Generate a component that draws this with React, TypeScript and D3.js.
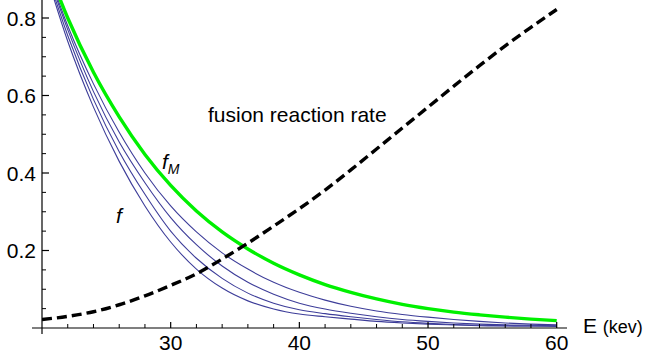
import * as d3 from 'd3'

// energy grid (kev)
const energy = [20, 22, 24, 26, 28, 30, 32, 34, 36, 38, 40, 42, 44, 46, 48, 50, 52, 54, 56, 58, 60]

// Maxwellian f_M (green)
const fMaxwell = [0.97, 0.80, 0.66, 0.545, 0.448, 0.368, 0.302, 0.248, 0.204, 0.167, 0.137, 0.112, 0.092, 0.075, 0.061, 0.050, 0.041, 0.034, 0.028, 0.023, 0.019]

// distorted f curves (blue), top to bottom
const fCurves = [
  [0.965, 0.78, 0.63, 0.505, 0.40, 0.315, 0.248, 0.194, 0.152, 0.118, 0.092, 0.072, 0.056, 0.044, 0.035, 0.028, 0.022, 0.017, 0.013, 0.010, 0.008],
  [0.96, 0.77, 0.61, 0.48, 0.375, 0.285, 0.215, 0.16, 0.118, 0.087, 0.064, 0.049, 0.038, 0.029, 0.022, 0.017, 0.013, 0.010, 0.008, 0.007, 0.006],
  [0.955, 0.755, 0.59, 0.455, 0.345, 0.25, 0.18, 0.128, 0.09, 0.064, 0.047, 0.037, 0.029, 0.022, 0.016, 0.012, 0.009, 0.007, 0.006, 0.005, 0.005],
  [0.95, 0.74, 0.57, 0.43, 0.315, 0.222, 0.152, 0.103, 0.07, 0.049, 0.036, 0.029, 0.023, 0.017, 0.013, 0.010, 0.008, 0.006, 0.005, 0.005, 0.004],
]

// fusion reaction rate (dashed)
const fusionRate = [0.022, 0.030, 0.042, 0.060, 0.083, 0.110, 0.140, 0.178, 0.219, 0.263, 0.308, 0.356, 0.408, 0.462, 0.516, 0.570, 0.624, 0.677, 0.728, 0.776, 0.822]

const xMajor = [30, 40, 50, 60]
const yMajor = [0.2, 0.4, 0.6, 0.8]
const yLabels = ['0.2', '0.4', '0.6', '0.8']

const W = 648
const H = 358
const font = '"Liberation Sans", Arial, Helvetica, sans-serif'

export default function App() {
  const x = d3.scaleLinear().domain([20, 60]).range([42, 556.7])
  const y = d3.scaleLinear().domain([0, 0.8]).range([328, 18])

  const line = d3.line<number>()
    .x((_, i) => x(energy[i]))
    .y(d => y(d))
    .curve(d3.curveMonotoneX)

  const xMinor = d3.range(22, 61, 2).filter(v => v % 10 !== 0)
  const yMinor = d3.range(0.05, 0.86, 0.05).filter(v => Math.abs(v * 5 - Math.round(v * 5)) > 1e-6)

  return (
    <svg width={W} height={H} style={{ position: 'absolute', left: 0, top: 0, background: '#fff' }} fontFamily={font}>
      <defs>
        <clipPath id="plot">
          <rect x={x(20)} y={0} width={x(60) - x(20) + 2} height={340} />
        </clipPath>
      </defs>

      <g clipPath="url(#plot)">
        {fCurves.map((c, i) => (
          <path key={i} d={line(c) ?? ''} fill="none" stroke="#3d3d99" strokeWidth={1.1} />
        ))}
        <path d={line(fMaxwell) ?? ''} fill="none" stroke="#00f000" strokeWidth={3.4} />
        <path d={line(fusionRate) ?? ''} fill="none" stroke="#000" strokeWidth={3.4} strokeDasharray="10,5" />
      </g>

      {/* axes */}
      <line x1={x(20)} x2={x(20)} y1={0} y2={334} stroke="#000" strokeWidth={1.2} />
      <line x1={32} x2={567} y1={y(0)} y2={y(0)} stroke="#000" strokeWidth={1.2} />

      {xMinor.map(v => (
        <line key={'xm' + v} x1={x(v)} x2={x(v)} y1={y(0)} y2={y(0) - 4} stroke="#000" strokeWidth={1} />
      ))}
      {xMajor.map(v => (
        <g key={'xM' + v}>
          <line x1={x(v)} x2={x(v)} y1={y(0)} y2={y(0) - 6} stroke="#000" strokeWidth={1.2} />
          <text x={x(v)} y={350} textAnchor="middle" fontSize={21}>{v}</text>
        </g>
      ))}
      {yMinor.map(v => (
        <line key={'ym' + v.toFixed(2)} x1={x(20)} x2={x(20) + 4} y1={y(v)} y2={y(v)} stroke="#000" strokeWidth={1} />
      ))}
      {yMajor.map((v, i) => (
        <g key={'yM' + v}>
          <line x1={x(20)} x2={x(20) + 7} y1={y(v)} y2={y(v)} stroke="#000" strokeWidth={1.2} />
          <text x={36} y={y(v) + 7.5} textAnchor="end" fontSize={21}>{yLabels[i]}</text>
        </g>
      ))}

      <text x={583} y={333} fontSize={21}>E <tspan fontSize={18}>(kev)</tspan></text>

      <text x={208} y={121.5} fontSize={21}>fusion reaction rate</text>
      <text x={162} y={169} fontSize={21} fontStyle="italic">f<tspan fontSize={14} dy={5}>M</tspan></text>
      <text x={116} y={223} fontSize={21} fontStyle="italic">f</text>
    </svg>
  )
}
